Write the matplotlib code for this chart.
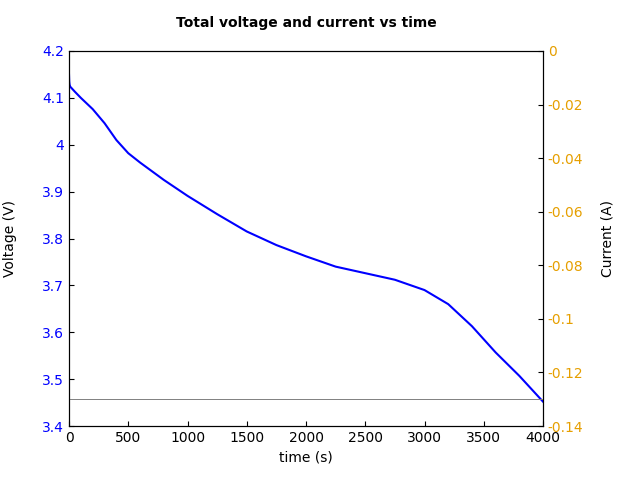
import matplotlib
matplotlib.use("Agg")
import matplotlib.pyplot as plt
import numpy as np

time_s = [0, 2, 5, 10, 50, 100, 200, 300, 400, 500, 600, 800, 1000, 1250, 1500, 1750, 2000, 2250, 2500, 2750, 3000, 3200, 3400, 3500, 3600, 3800, 4000]
voltage = [4.15, 4.135, 4.128, 4.124, 4.113, 4.100, 4.076, 4.046, 4.010, 3.982, 3.962, 3.925, 3.891, 3.852, 3.815, 3.786, 3.762, 3.740, 3.726, 3.712, 3.690, 3.660, 3.613, 3.585, 3.557, 3.507, 3.452]
current = [-0.13, -0.13]
current_t = [0, 4000]

fig = plt.figure(figsize=(6.4, 4.8), dpi=100)
ax = fig.add_axes([69/640, 1-426/480, (543-69)/640, (426-51)/480])
ax.plot(time_s, voltage, color="blue", lw=1.5)
ax.set_xlim(0, 4000)
ax.set_ylim(3.4, 4.2)
ax.set_yticks([3.4, 3.5, 3.6, 3.7, 3.8, 3.9, 4.0, 4.1, 4.2])
ax.set_yticklabels(["3.4", "3.5", "3.6", "3.7", "3.8", "3.9", "4", "4.1", "4.2"])
ax.tick_params(axis="y", colors="blue", direction="in")
ax.tick_params(axis="x", direction="in")
ax.set_xlabel("time (s)")
ax.set_ylabel("Voltage (V)", labelpad=18)
ax.set_title("Total voltage and current vs time", fontweight="bold", fontsize=10, pad=17)

ax2 = ax.twinx()
ax2.plot(current_t, current, color="gray", lw=0.7)
ax2.set_ylim(-0.14, 0)
ax2.set_yticks([-0.14, -0.12, -0.1, -0.08, -0.06, -0.04, -0.02, 0])
ax2.set_yticklabels(["-0.14", "-0.12", "-0.1", "-0.08", "-0.06", "-0.04", "-0.02", "0"])
ax2.tick_params(axis="y", colors="#e69f00", direction="in")
ax2.set_ylabel("Current (A)", labelpad=12)
for a in (ax, ax2):
    for lbl in a.get_yticklabels():
        lbl.set_color(a is ax and "blue" or "#e69f00")
ax2.tick_params(axis="y", color="black")
ax.tick_params(axis="y", color="black")
fig.savefig("out.png", dpi=100)
